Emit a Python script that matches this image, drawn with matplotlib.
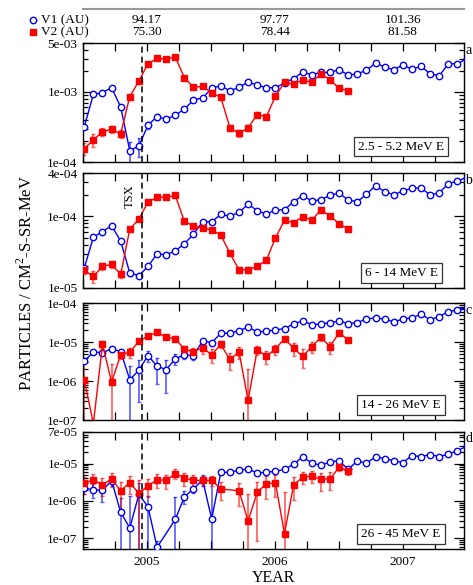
import numpy as np
import matplotlib
matplotlib.use("Agg")  # no display in the sandbox
import matplotlib.pyplot as plt
import matplotlib.transforms as mtransforms
from matplotlib.lines import Line2D
from matplotlib.ticker import (FixedLocator, FuncFormatter, LogLocator,
                               MultipleLocator, NullFormatter)

plt.rcParams["font.family"] = ["Liberation Serif", "DejaVu Serif"]
plt.rcParams["mathtext.fontset"] = "custom"
plt.rcParams["mathtext.rm"] = "Liberation Serif"

# ─────────────────────────────────────────────
# 1. DATA  (26-day averages)
# ─────────────────────────────────────────────
T0 = 2004.51            # start of first averaging interval
ROT = 26.0 / 365.25     # Bartels rotation in years
n_v1, n_v2 = 43, 30
year_v1 = T0 + ROT * np.arange(n_v1)
year_v2 = T0 + ROT * np.arange(n_v2)
TSX_YEAR = 2004.96

# header: heliocentric distance at each year tick
au_years = [2005, 2006, 2007]
v1_au = ["94.17", "97.77", "101.36"]
v2_au = ["75.30", "78.44", "81.58"]

# panel a: 2.5 - 5.2 MeV
v1_a = [3.2e-4, 9.2e-4, 9.8e-4, 1.15e-3, 6.1e-4, 1.45e-4, 1.7e-4, 3.35e-4, 4.46e-4, 4.08e-4,
        4.66e-4, 5.68e-4, 7.7e-4, 8.2e-4, 1.13e-3, 1.23e-3, 1.03e-3, 1.17e-3, 1.38e-3, 1.25e-3,
        1.15e-3, 1.15e-3, 1.34e-3, 1.55e-3, 1.92e-3, 1.76e-3, 1.9e-3, 1.9e-3, 2.08e-3, 1.74e-3,
        1.82e-3, 2.03e-3, 2.59e-3, 2.27e-3, 2.08e-3, 2.42e-3, 2.12e-3, 2.32e-3, 1.82e-3, 1.70e-3,
        2.53e-3, 2.53e-3, 2.95e-3]
v1_a_err = [0.05, 0.05, 0.05, 0.05, 0.05, 0.35, 0.3, 0.12, 0.1, 0.08,
            0.05, 0.05, 0.05, 0.05, 0.04, 0.04, 0.04, 0.04, 0.04, 0.04,
            0.04, 0.04, 0.04, 0.04, 0.04, 0.04, 0.04, 0.04, 0.04, 0.04,
            0.04, 0.04, 0.04, 0.04, 0.04, 0.04, 0.04, 0.04, 0.04, 0.04,
            0.04, 0.04, 0.04]
v2_a = [1.55e-4, 2.07e-4, 2.69e-4, 2.94e-4, 2.52e-4, 8.6e-4, 1.43e-3, 2.53e-3, 3.02e-3, 2.95e-3,
        3.15e-3, 1.6e-3, 1.17e-3, 1.2e-3, 9.7e-4, 8.4e-4, 3.1e-4, 2.57e-4, 3.07e-4, 4.76e-4,
        4.41e-4, 8.7e-4, 1.37e-3, 1.29e-3, 1.48e-3, 1.37e-3, 1.82e-3, 1.49e-3, 1.13e-3, 1.04e-3]
v2_a_err = [0.2, 0.2, 0.12, 0.12, 0.12, 0.06, 0.05, 0.04, 0.04, 0.04,
            0.04, 0.04, 0.04, 0.04, 0.05, 0.05, 0.1, 0.12, 0.1, 0.08,
            0.08, 0.05, 0.04, 0.04, 0.04, 0.04, 0.04, 0.04, 0.04, 0.04]

# panel b: 6 - 14 MeV
v1_b = [1.9e-5, 5.1e-5, 6.1e-5, 7.4e-5, 4.5e-5, 1.62e-5, 1.49e-5, 2.0e-5, 3.0e-5, 2.91e-5,
        3.28e-5, 4.15e-5, 5.6e-5, 8.4e-5, 8.4e-5, 1.06e-4, 1.0e-4, 1.13e-4, 1.47e-4, 1.2e-4,
        1.07e-4, 1.22e-4, 1.23e-4, 1.6e-4, 1.94e-4, 1.63e-4, 1.70e-4, 1.95e-4, 2.11e-4, 1.67e-4,
        1.6e-4, 2.02e-4, 2.67e-4, 2.2e-4, 1.98e-4, 2.25e-4, 2.45e-4, 2.48e-4, 1.98e-4, 2.11e-4,
        2.84e-4, 3.1e-4, 3.45e-4]
v1_b_err = [0.05, 0.05, 0.05, 0.05, 0.05, 0.08, 0.08, 0.05, 0.05, 0.05,
            0.04, 0.04, 0.04, 0.04, 0.04, 0.04, 0.04, 0.04, 0.04, 0.04,
            0.04, 0.04, 0.04, 0.04, 0.04, 0.04, 0.04, 0.04, 0.04, 0.04,
            0.04, 0.04, 0.04, 0.04, 0.04, 0.04, 0.04, 0.04, 0.04, 0.04,
            0.04, 0.04, 0.04]
v2_b = [1.76e-5, 1.45e-5, 2.0e-5, 2.14e-5, 1.55e-5, 6.6e-5, 9.1e-5, 1.58e-4, 1.83e-4, 1.83e-4,
        1.95e-4, 8.5e-5, 7.3e-5, 6.9e-5, 6.4e-5, 5.5e-5, 3.04e-5, 1.8e-5, 1.8e-5, 2.0e-5,
        2.43e-5, 4.97e-5, 8.8e-5, 8.1e-5, 9.9e-5, 8.8e-5, 1.23e-4, 1.0e-4, 7.9e-5, 6.6e-5]
v2_b_err = [0.12, 0.18, 0.1, 0.1, 0.1, 0.05, 0.04, 0.04, 0.04, 0.04,
            0.04, 0.04, 0.04, 0.04, 0.04, 0.05, 0.06, 0.1, 0.1, 0.08,
            0.06, 0.05, 0.04, 0.04, 0.04, 0.04, 0.04, 0.04, 0.04, 0.04]

# panel c: 14 - 26 MeV
v1_c = [3.2e-6, 5.6e-6, 5.3e-6, 6.7e-6, 5.7e-6, 1.08e-6, 1.89e-6, 4.5e-6, 2.4e-6, 1.96e-6,
        3.7e-6, 4.7e-6, 4.5e-6, 1.06e-5, 9.6e-6, 1.68e-5, 1.68e-5, 1.96e-5, 2.4e-5, 1.82e-5,
        1.89e-5, 2.04e-5, 2.21e-5, 2.9e-5, 3.5e-5, 2.8e-5, 2.9e-5, 3.16e-5, 3.4e-5, 2.98e-5,
        3.16e-5, 3.86e-5, 4.2e-5, 3.86e-5, 3.3e-5, 3.86e-5, 4.2e-5, 5.1e-5, 3.7e-5, 4.5e-5,
        5.97e-5, 6.7e-5, 7.6e-5]
v1_c_err = [0.1, 0.1, 0.1, 0.1, 0.12, 1.3, 0.85, 0.3, 0.65, 0.75,
            0.3, 0.2, 0.25, 0.08, 0.08, 0.05, 0.05, 0.05, 0.05, 0.05,
            0.05, 0.05, 0.05, 0.05, 0.05, 0.05, 0.05, 0.05, 0.05, 0.05,
            0.05, 0.05, 0.05, 0.05, 0.05, 0.05, 0.05, 0.05, 0.05, 0.05,
            0.05, 0.05, 0.05]
v2_c = [1.08e-6, 8e-8, 8.7e-6, 9.4e-7, 4.7e-6, 5.5e-6, 1.04e-5, 1.43e-5, 1.78e-5, 1.32e-5,
        1.22e-5, 6.5e-6, 5.7e-6, 7.1e-6, 4.7e-6, 8.7e-6, 3.56e-6, 5.6e-6, 3.2e-7, 6.3e-6,
        4.3e-6, 6.6e-6, 1.22e-5, 6.9e-6, 4.3e-6, 7.6e-6, 1.32e-5, 7.6e-6, 1.74e-5, 1.13e-5]
v2_c_err = [1.7, 0.0, 0.25, 1.9, 0.2, 0.3, 0.1, 0.1, 0.1, 0.1,
            0.15, 0.25, 0.25, 0.3, 0.4, 0.2, 0.45, 0.35, 5.2, 0.25,
            0.35, 0.3, 0.15, 0.35, 0.5, 0.3, 0.2, 0.35, 0.15, 0.15]

# panel d: 26 - 45 MeV  (nan = no data in that interval)
v1_d = [2.2e-6, 2.0e-6, 1.92e-6, 3.5e-6, 5.0e-7, 1.9e-7, 1.5e-6, 7.0e-7, 5.8e-8, np.nan,
        3.2e-7, 1.3e-6, 2.1e-6, 3.7e-6, 3.3e-7, 5.8e-6, 5.9e-6, 6.6e-6, 7.2e-6, 5.6e-6,
        5.9e-6, 6.2e-6, 7.0e-6, 9.6e-6, 1.51e-5, 1.04e-5, 9.0e-6, 1.11e-5, 1.2e-5, 7.0e-6,
        1.18e-5, 1.02e-5, 1.51e-5, 1.36e-5, 1.2e-5, 1.06e-5, 1.64e-5, 1.54e-5, 1.75e-5, 1.54e-5,
        1.78e-5, 2.24e-5, 2.87e-5]
v1_d_err = [0.3, 0.4, 0.5, 0.3, 1.4, 6.0, 1.0, 1.0, 0.5, 0.0,
            3.0, 0.38, 0.2, 0.3, 12.0, 0.05, 0.05, 0.05, 0.05, 0.05,
            0.05, 0.05, 0.05, 0.05, 0.05, 0.05, 0.05, 0.05, 0.05, 0.05,
            0.05, 0.05, 0.05, 0.05, 0.05, 0.05, 0.05, 0.05, 0.05, 0.05,
            0.05, 0.05, 0.05]
v2_d = [3.0e-6, 3.7e-6, 2.7e-6, 3.9e-6, 1.88e-6, 3.1e-6, 1.6e-6, 2.56e-6, 3.7e-6, 3.56e-6,
        5.4e-6, 4.1e-6, 3.56e-6, 3.56e-6, 3.56e-6, 2.1e-6, np.nan, 1.88e-6, 2.9e-7, 1.7e-6,
        2.9e-6, 3.1e-6, 1.34e-7, 2.72e-6, 4.3e-6, 4.66e-6, 3.8e-6, 3.9e-6, 8.0e-6, 6.2e-6]
v2_d_err = [0.5, 0.4, 0.5, 0.4, 0.7, 0.5, 1.3, 0.5, 0.4, 0.4,
            0.3, 0.4, 0.4, 0.3, 0.3, 0.5, 0.0, 0.6, 4.2, 0.95,
            0.6, 0.6, 12.0, 0.6, 0.35, 0.35, 0.5, 0.5, 0.2, 0.2]

panels = [
    dict(v1=v1_a, v1e=v1_a_err, v2=v2_a, v2e=v2_a_err, ylim=(1e-4, 5e-3),
         yticks=[1e-4, 1e-3, 5e-3], label="2.5 - 5.2 MeV E", tag="a"),
    dict(v1=v1_b, v1e=v1_b_err, v2=v2_b, v2e=v2_b_err, ylim=(1e-5, 4e-4),
         yticks=[1e-5, 1e-4, 4e-4], label="6 - 14 MeV E", tag="b"),
    dict(v1=v1_c, v1e=v1_c_err, v2=v2_c, v2e=v2_c_err, ylim=(1e-7, 1e-4),
         yticks=[1e-7, 1e-6, 1e-5, 1e-4], label="14 - 26 MeV E", tag="c"),
    dict(v1=v1_d, v1e=v1_d_err, v2=v2_d, v2e=v2_d_err, ylim=(5.2e-8, 7e-5),
         yticks=[1e-7, 1e-6, 1e-5, 7e-5], label="26 - 45 MeV E", tag="d"),
]

# ─────────────────────────────────────────────
# 2. LAYOUT (pixel boxes of the 473x585 figure)
# ─────────────────────────────────────────────
W, H = 473, 585
LEFT, RIGHT = 83, 464
PANEL_PX = [(43, 162), (173, 288), (303, 420), (432, 549)]

BLUE = "#0000ff"
RED = "#ff0000"
FS = 9.5

fig = plt.figure(figsize=(W / 100, H / 100), dpi=100)


def year_fmt(x, pos):
    return f"{int(round(x))}" if abs(x - round(x)) < 1e-6 else ""


def draw_series(ax, t, vals, rel_err, color, marker, mfc, ms, ylo):
    vals = np.asarray(vals, dtype=float)
    sig = vals * np.asarray(rel_err, dtype=float)
    lower = vals - sig
    lower = np.where(lower <= 0, ylo * 0.3, lower)   # runs off the bottom
    ok = ~np.isnan(vals)
    ax.errorbar(t[ok], vals[ok], yerr=[(vals - lower)[ok], sig[ok]], fmt="none",
                ecolor=color, alpha=0.6, elinewidth=1.3, capsize=1.4, capthick=1.0,
                zorder=2)
    ax.plot(t[ok], vals[ok], color=color, lw=1.0, marker=marker, ms=ms,
            mfc=mfc, mec=color, mew=1.0, zorder=3)


axes = []
for k, (p, (top, bot)) in enumerate(zip(panels, PANEL_PX)):
    ax = fig.add_axes([LEFT / W, 1 - bot / H, (RIGHT - LEFT) / W, (bot - top) / H])
    axes.append(ax)
    ax.set_yscale("log")

    draw_series(ax, year_v1, p["v1"], p["v1e"], BLUE, "o", "white", 4.6, p["ylim"][0])
    draw_series(ax, year_v2, p["v2"], p["v2e"], RED, "s", RED, 4.2, p["ylim"][0])

    ax.axvline(TSX_YEAR, color="black", lw=1.1, ls=(0, (4, 2.5)), zorder=4)

    ax.set_xlim(2004.5, 2007.48)
    ax.set_ylim(*p["ylim"])

    ax.yaxis.set_major_locator(FixedLocator(p["yticks"]))
    ax.yaxis.set_major_formatter(FuncFormatter(lambda v, pos: f"{v:.0e}"))
    ax.yaxis.set_minor_locator(LogLocator(base=10, subs=np.arange(2, 10)))
    ax.yaxis.set_minor_formatter(NullFormatter())
    ax.xaxis.set_major_locator(MultipleLocator(0.25))
    ax.xaxis.set_major_formatter(FuncFormatter(year_fmt))

    ax.tick_params(which="both", direction="in", top=True, right=True,
                   width=0.9, labelsize=FS, colors="black")
    ax.tick_params(axis="y", which="major", length=7, pad=4)
    ax.tick_params(axis="y", which="minor", length=3.5)
    ax.tick_params(axis="x", which="major", length=5.5, pad=5,
                   labelbottom=(k == len(panels) - 1))
    for s in ax.spines.values():
        s.set_linewidth(1.0)

    ax.text(0.835, 0.13, p["label"], transform=ax.transAxes, ha="center",
            va="center", fontsize=FS, zorder=6,
            bbox=dict(boxstyle="square,pad=0.3", fc="white", ec="#333333", lw=0.9))

    # panel letter, squeezed against the right edge of the figure
    fig.text(465.5 / W, 1 - (top + 7) / H, p["tag"], fontsize=10, ha="left", va="center")

# TSX marker text in panel b
axes[1].text(TSX_YEAR - 0.05, 0.8, "TSX", transform=mtransforms.blended_transform_factory(
    axes[1].transData, axes[1].transAxes), rotation=90, ha="right", va="center", fontsize=9)

# ─────────────────────────────────────────────
# 3. HEADER: distances of V1 / V2 in AU
# ─────────────────────────────────────────────
fig.add_artist(Line2D([LEFT / W, RIGHT / W], [1 - 8.5 / H, 1 - 8.5 / H],
                      transform=fig.transFigure, color="#999999", lw=1.5))
head = mtransforms.blended_transform_factory(axes[0].transData, fig.transFigure)
for yr, a1, a2 in zip(au_years, v1_au, v2_au):
    fig.text(yr, 1 - 20 / H, a1, transform=head, ha="center", va="center", fontsize=FS)
    fig.text(yr, 1 - 32 / H, a2, transform=head, ha="center", va="center", fontsize=FS)

fig.add_artist(Line2D([33 / W], [1 - 20 / H], transform=fig.transFigure, marker="o",
                      ms=4.6, mfc="white", mec=BLUE, mew=1.0, ls="none"))
fig.add_artist(Line2D([33 / W], [1 - 32 / H], transform=fig.transFigure, marker="s",
                      ms=4.2, mfc=RED, mec=RED, ls="none"))
fig.text(41 / W, 1 - 20 / H, "V1 (AU)", ha="left", va="center", fontsize=FS)
fig.text(41 / W, 1 - 32 / H, "V2 (AU)", ha="left", va="center", fontsize=FS)

# ─────────────────────────────────────────────
# 4. AXIS TITLES + SAVE
# ─────────────────────────────────────────────
fig.text((LEFT + RIGHT) / 2 / W, 1 - 578 / H, "YEAR", ha="center", va="center", fontsize=11.5)
fig.text(26 / W, 1 - 283 / H, "PARTICLES / CM$^{2}$-S-SR-MeV", rotation=90,
         ha="center", va="center", fontsize=12)

fig.savefig("out.png", dpi=100)
print("Saved: out.png")
